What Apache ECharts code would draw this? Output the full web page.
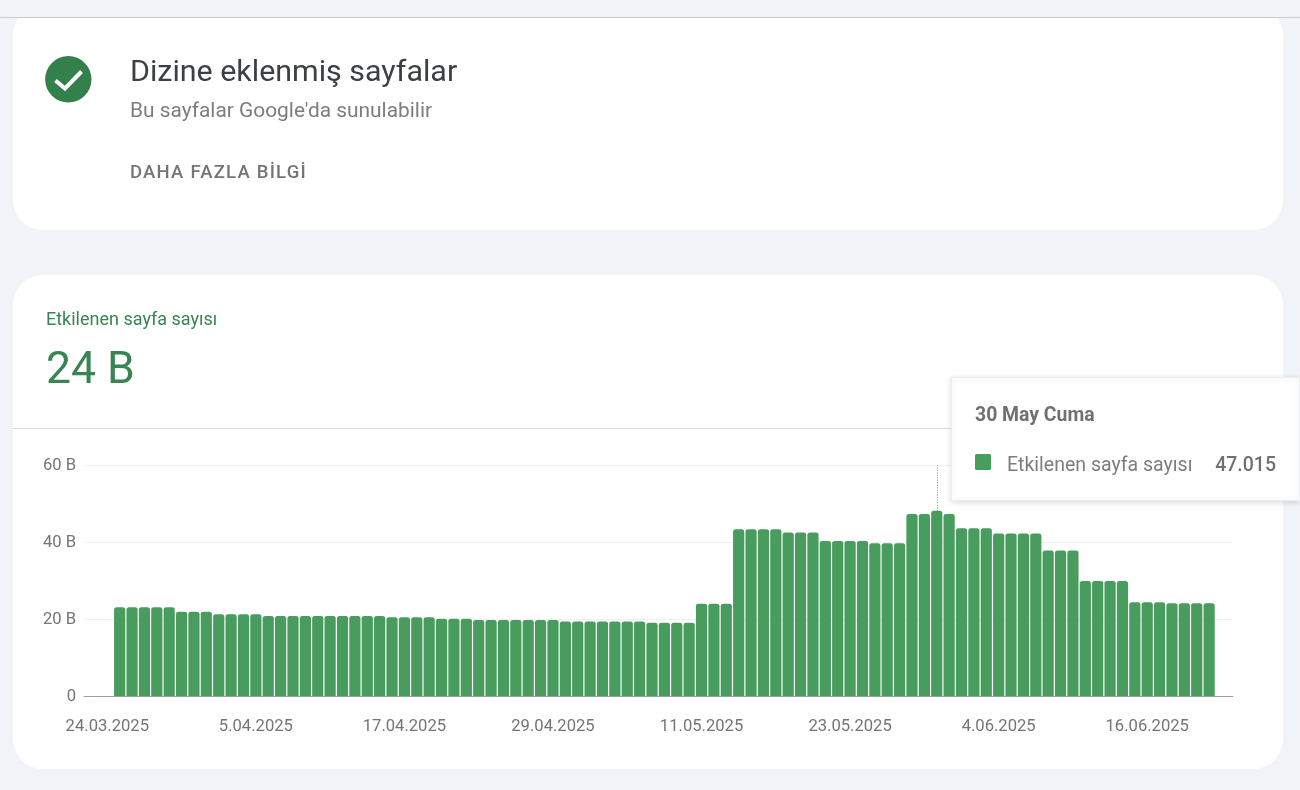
<!DOCTYPE html>
<html lang="tr">
<head>
<meta charset="utf-8">
<style>html,body{margin:0;padding:0;background:#f0f4f9}#c{width:1300px;height:790px}
#more{position:absolute;left:130px;top:160px;font:500 18.5px/24px Roboto;letter-spacing:1.22px;color:#757575;white-space:nowrap}</style>
<script src="https://cdn.jsdelivr.net/npm/echarts@6/dist/echarts.min.js"></script>
</head>
<body>
<div id="c"></div>
<div id="more">DAHA FAZLA BİLGİ</div>
<script>
const categories = ['24.03.2025','25.03.2025','26.03.2025','27.03.2025','28.03.2025','29.03.2025','30.03.2025','31.03.2025',
'1.04.2025','2.04.2025','3.04.2025','4.04.2025','5.04.2025','6.04.2025','7.04.2025','8.04.2025','9.04.2025','10.04.2025','11.04.2025','12.04.2025','13.04.2025','14.04.2025','15.04.2025','16.04.2025','17.04.2025','18.04.2025','19.04.2025','20.04.2025','21.04.2025','22.04.2025','23.04.2025','24.04.2025','25.04.2025','26.04.2025','27.04.2025','28.04.2025','29.04.2025','30.04.2025',
'1.05.2025','2.05.2025','3.05.2025','4.05.2025','5.05.2025','6.05.2025','7.05.2025','8.05.2025','9.05.2025','10.05.2025','11.05.2025','12.05.2025','13.05.2025','14.05.2025','15.05.2025','16.05.2025','17.05.2025','18.05.2025','19.05.2025','20.05.2025','21.05.2025','22.05.2025','23.05.2025','24.05.2025','25.05.2025','26.05.2025','27.05.2025','28.05.2025','29.05.2025','30.05.2025','31.05.2025',
'1.06.2025','2.06.2025','3.06.2025','4.06.2025','5.06.2025','6.06.2025','7.06.2025','8.06.2025','9.06.2025','10.06.2025','11.06.2025','12.06.2025','13.06.2025','14.06.2025','15.06.2025','16.06.2025','17.06.2025','18.06.2025','19.06.2025','20.06.2025','21.06.2025'];
// thousands ("B" = bin); first day has no bar
const pageCounts = [null,
23.2,23.2,23.2,23.2,23.2,22.0,22.0,22.0,21.35,21.35,21.35,21.35,
20.9,20.9,20.9,20.9,20.9,20.9,20.9,20.9,20.9,20.9,
20.6,20.6,20.6,20.6,20.2,20.2,20.2,
19.9,19.9,19.9,19.9,19.9,19.9,19.9,
19.5,19.5,19.5,19.5,19.5,19.5,19.5,
19.2,19.2,19.2,19.2,24.1,24.1,24.1,
43.4,43.4,43.4,43.4,42.6,42.6,42.6,
40.4,40.4,40.4,40.4,39.8,39.8,39.8,
47.35,47.35,48.2,47.35,43.7,43.7,43.7,
42.3,42.3,42.3,42.3,37.9,37.9,37.9,
30.0,30.0,30.0,30.0,24.5,24.5,24.5,24.2,24.2,24.2,24.2];
const hoveredDay = '30.05.2025';
const yTicks = [0,20,40,60];
const seriesName = 'Etkilenen sayfa sayısı';

const FONT = 'Roboto';
const txt = (x,y,text,size,fill,weight,z,align) => ({type:'text',x,y,z:z||5,silent:true,
  style:{text,fontFamily:FONT,fontSize:size,fill,fontWeight:weight||400,textAlign:align||'left',textVerticalAlign:'middle'}});

const graphic = [
 {type:'rect',z:-5,shape:{x:13,y:5,width:1270,height:225,r:30},style:{fill:'#fff'},silent:true},
 {type:'rect',z:-4,shape:{x:0,y:0,width:1300,height:17},style:{fill:'#f0f4f9'},silent:true},
 {type:'rect',z:-4,shape:{x:0,y:17,width:1300,height:1},style:{fill:'#c9ccd0'},silent:true},
 {type:'rect',z:-5,shape:{x:13,y:275,width:1270,height:494,r:30},style:{fill:'#fff'},silent:true},
 {type:'rect',z:-4,shape:{x:13,y:428,width:1270,height:1},style:{fill:'#dadce0'},silent:true},
 {type:'circle',z:3,shape:{cx:68.3,cy:79.3,r:23.2},style:{fill:'#34804a'},silent:true},
 {type:'polyline',z:4,shape:{points:[[55.5,80.5],[65,88.5],[81.5,71.5]]},style:{stroke:'#fff',lineWidth:4,fill:null},silent:true},
 txt(130,73,'Dizine eklenmiş sayfalar',30.4,'#3c4043'),
 txt(130,112,"Bu sayfalar Google'da sunulabilir",20.9,'#7b7d80'),
 txt(46,320,seriesName,18,'#388452'),
 txt(46,372,'24 B',44.5,'#388452'),
 {type:'rect',z:20,shape:{x:951.5,y:377.5,width:348,height:123},
  style:{fill:'#fff',stroke:'#eceef0',lineWidth:1,shadowBlur:6,shadowColor:'rgba(0,0,0,0.14)',shadowOffsetY:1},silent:true},
 txt(975,416,'30 May Cuma',19.4,'#707070',700,21),
 {type:'rect',z:21,shape:{x:975,y:454,width:16,height:16,r:1.5},style:{fill:'#479c5e'},silent:true},
 txt(1007,466,seriesName,19.5,'#7b7d80',400,21),
 txt(1276,466,'47.015',19.5,'#707070',500,21,'right')
];

const chart = echarts.init(document.getElementById('c'),null,{renderer:'canvas',width:1300,height:790});
chart.setOption({
 animation:false,
 backgroundColor:'#f0f4f9',
 graphic,
 grid:[
  {left:84,right:67,top:465.3,height:231.4},
  {left:101.1,width:1114.2,top:465.3,height:231.4}
 ],
 xAxis:[
  {gridIndex:0,type:'category',data:[''],axisTick:{show:false},axisLabel:{show:false},z:6,
   axisLine:{show:true,lineStyle:{color:'#9aa0a6',width:1}}},
  {gridIndex:1,type:'category',data:categories,axisTick:{show:false},axisLine:{show:false},z:6,
   axisLabel:{interval:i=>i%12===0,margin:21.5,color:'#757575',fontFamily:FONT,fontSize:16.6,hideOverlap:false}}
 ],
 yAxis:[
  {gridIndex:0,type:'value',min:yTicks[0],max:yTicks[3],interval:yTicks[1],z:1,
   axisLine:{show:false},axisTick:{show:false},
   splitLine:{show:true,lineStyle:{color:'#eff0f1',width:1}},
   axisLabel:{margin:8,verticalAlign:'top',padding:[-8,0,0,0],color:'#757575',fontFamily:FONT,fontSize:16.6,formatter:v=>v===0?'0':v+' B'}},
  {gridIndex:1,type:'value',min:yTicks[0],max:yTicks[3],interval:yTicks[1],show:false,splitLine:{show:false}}
 ],
 series:[{
  type:'bar',name:seriesName,xAxisIndex:1,yAxisIndex:1,data:pageCounts,barWidth:11.2,
  itemStyle:{color:'#479c5e',borderRadius:[2.5,2.5,0,0]},silent:true,z:3,
  markLine:{silent:true,symbol:'none',label:{show:false},z:2,
   lineStyle:{color:'#8a8d91',type:[1,1.5],width:1},
   data:[[{xAxis:hoveredDay,yAxis:pageCounts[categories.indexOf(hoveredDay)]},{xAxis:hoveredDay,yAxis:yTicks[3]}]]}
 }]
});
</script>
</body>
</html>
